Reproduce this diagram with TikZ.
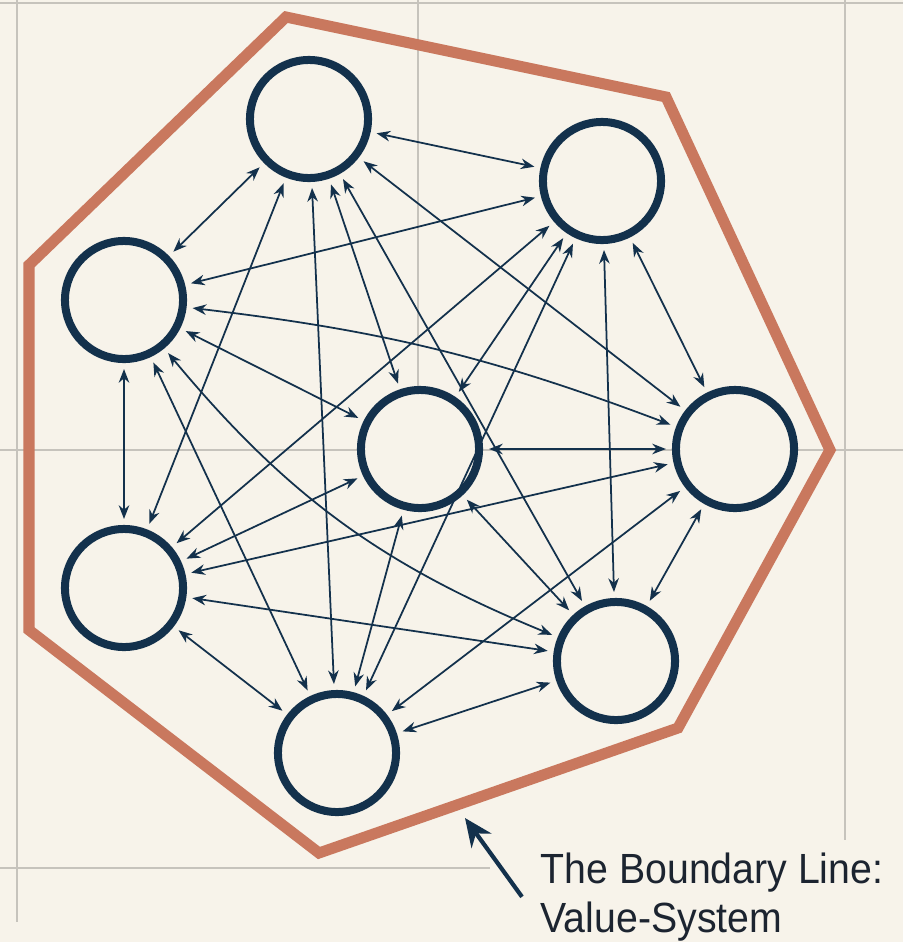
\documentclass[tikz,border=0pt]{standalone}
\usepackage{fontspec}
\setmainfont{Liberation Sans}
\newfontfamily\notefont[FakeStretch=0.93]{Liberation Sans}
\usepackage{xcolor}
\usepackage{tikz}
\usetikzlibrary{arrows.meta}
\definecolor{paper}{HTML}{F7F3EA}
\definecolor{navy}{HTML}{13314C}
\definecolor{ink}{HTML}{1C2430}
\definecolor{clay}{HTML}{C9785E}
\definecolor{rule}{HTML}{C6C3BC}
\tikzstyle{agent} = [draw=navy,circle,line width=0.08cm,minimum size=1.18cm,inner sep=0pt,fill=paper]
\tikzstyle{link} = [navy,line width=0.5pt,{Stealth[length=3.9pt,width=3pt]}-{Stealth[length=3.9pt,width=3pt]},shorten <=0.6mm,shorten >=0.6mm]
\tikzstyle{guide} = [rule,line width=0.4pt]

\begin{document}
\begin{tikzpicture}[x=0.01cm,y=0.01cm]
            \useasboundingbox (0,0) rectangle (903,-942);
            \fill[paper] (0,0) rectangle (903,-942);
            \draw[guide] (0,-3) -- (903,-3);
            \draw[guide] (0,-450) -- (903,-450);
            \draw[guide] (0,-868) -- (490,-868);
            \draw[guide] (17,0) -- (17,-922);
            \draw[guide] (418,0) -- (418,-449);
            \draw[guide] (845,0) -- (845,-840);
            \draw[clay,line width=0.11cm,line join=miter] (286,-17) -- (666,-97) -- (830,-450) -- (678,-728) -- (319,-853) -- (29,-630) -- (29,-265) -- cycle;
            \node[agent] (a) at (309,-119) {};
            \node[agent] (b) at (602,-181) {};
            \node[agent] (c) at (124,-300) {};
            \node[agent] (d) at (420,-449) {};
            \node[agent] (e) at (735,-449) {};
            \node[agent] (f) at (124,-588) {};
            \node[agent] (g) at (616,-661) {};
            \node[agent] (h) at (337,-753) {};
            \foreach \p/\q in {a/b,a/c,a/d,a/e,a/f,a/g,a/h,b/c,b/d,b/e,b/f,b/g,b/h,c/d,c/f,c/h,d/e,d/f,d/g,d/h,e/f,e/g,e/h,f/g,f/h,g/h}
                \draw[link] (\p) -- (\q);
            \draw[link] (c) to[bend left=7] (e);
            \draw[link] (c) to[bend right=14] (g);
            \node[ink,anchor=north west,align=left,inner sep=0pt,font=\notefont\fontsize{12}{13.9}\selectfont] (note) at (540,-852) {The Boundary Line:\\Value-System};
            \coordinate (hit) at (465,-818);
            \draw[navy,line width=1.2pt,-{Stealth[length=8pt,width=7pt]}] ([xshift=-0.18cm]note.west) -- (hit);
        \end{tikzpicture}
\end{document}
